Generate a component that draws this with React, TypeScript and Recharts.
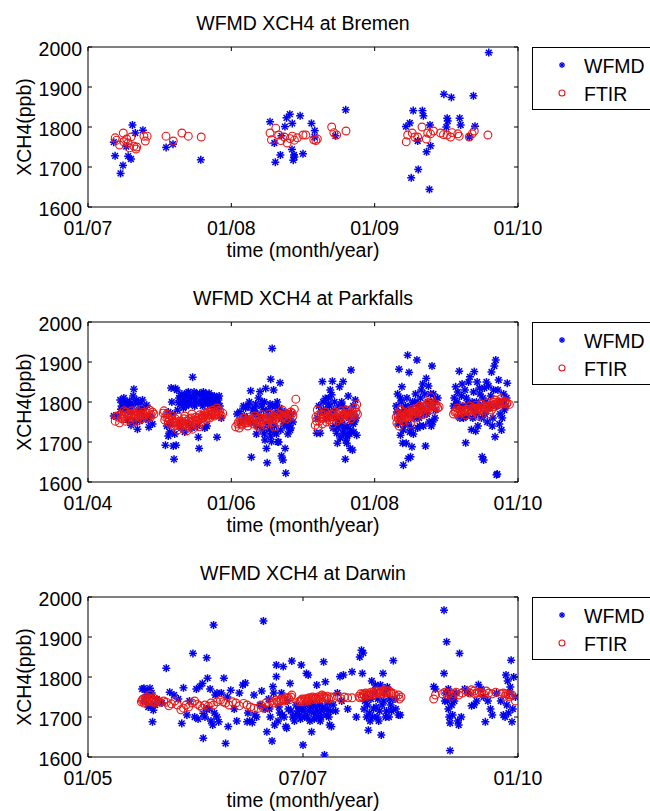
import React from 'react';
import { ScatterChart, Scatter, XAxis, YAxis, Legend } from 'recharts';

const FONT = '"Liberation Sans", Arial, Helvetica, sans-serif';
const FS = 19.5;
const BLUE = '#0000ee';
const RED = '#e81818';

type Pt = [number, number];

const yTicks = [1600, 1700, 1800, 1900, 2000];
const yDomain = [1600, 2000];

const titles = ['WFMD XCH4 at Bremen', 'WFMD XCH4 at Parkfalls', 'WFMD XCH4 at Darwin'];
const seriesNames = ['WFMD', 'FTIR'];
const xAxisLabel = 'time (month/year)';
const yAxisLabel = 'XCH4(ppb)';

const bremenTicks = [2007, 2008, 2009, 2010];
const bremenTickLabels = ['01/07', '01/08', '01/09', '01/10'];
const parkfallsTicks = [2004, 2006, 2008, 2010];
const parkfallsTickLabels = ['01/04', '01/06', '01/08', '01/10'];
const darwinTicks = [2005, 2007.5, 2010];
const darwinTickLabels = ['01/05', '07/07', '01/10'];

const bremenWfmd: Pt[] = [
  [2007.189, 1728], [2007.244, 1704], [2007.227, 1684], [2007.31, 1805], [2007.383, 1792],
  [2007.267, 1751], [2007.28, 1727], [2007.3, 1720], [2007.18, 1762], [2007.33, 1785],
  [2007.545, 1749], [2007.593, 1757], [2007.787, 1718],
  [2008.27, 1813], [2008.307, 1712], [2008.342, 1730], [2008.374, 1801], [2008.385, 1823],
  [2008.408, 1832], [2008.425, 1809], [2008.423, 1744], [2008.432, 1717], [2008.437, 1730],
  [2008.44, 1725], [2008.48, 1828], [2008.5, 1733], [2008.559, 1809], [2008.582, 1791],
  [2008.58, 1775], [2008.3, 1760], [2008.35, 1778], [2008.726, 1778], [2008.798, 1843],
  [2009.218, 1801], [2009.245, 1810], [2009.269, 1841], [2009.255, 1673], [2009.304, 1694],
  [2009.333, 1841], [2009.34, 1828], [2009.362, 1738], [2009.39, 1753], [2009.382, 1644],
  [2009.386, 1805], [2009.3, 1765], [2009.483, 1882], [2009.535, 1874], [2009.506, 1822],
  [2009.51, 1815], [2009.5, 1800], [2009.593, 1822], [2009.6, 1805], [2009.689, 1878],
  [2009.7, 1802], [2009.796, 1986], [2009.66, 1775],
];

const bremenFtir: Pt[] = [
  [2007.19, 1773], [2007.2, 1767], [2007.246, 1785], [2007.22, 1755], [2007.27, 1770],
  [2007.28, 1760], [2007.3, 1775], [2007.32, 1752], [2007.335, 1745], [2007.34, 1750],
  [2007.39, 1777], [2007.4, 1765], [2007.413, 1777], [2007.29, 1748], [2007.25, 1763],
  [2007.544, 1777], [2007.595, 1765], [2007.655, 1785], [2007.7, 1777], [2007.79, 1775],
  [2008.27, 1785], [2008.28, 1768], [2008.31, 1797], [2008.33, 1780], [2008.345, 1766],
  [2008.37, 1775], [2008.39, 1760], [2008.41, 1771], [2008.425, 1777], [2008.44, 1767],
  [2008.46, 1773], [2008.5, 1780], [2008.52, 1780], [2008.575, 1768], [2008.59, 1766],
  [2008.6, 1770], [2008.7, 1800], [2008.715, 1786], [2008.735, 1780], [2008.8, 1790],
  [2009.22, 1763], [2009.23, 1780], [2009.262, 1785], [2009.28, 1775], [2009.3, 1775],
  [2009.33, 1800], [2009.36, 1770], [2009.37, 1785], [2009.39, 1783], [2009.41, 1790],
  [2009.46, 1785], [2009.48, 1781], [2009.505, 1780], [2009.53, 1775], [2009.54, 1786],
  [2009.58, 1783], [2009.59, 1777], [2009.66, 1775], [2009.68, 1783], [2009.695, 1790],
  [2009.79, 1780],
];

const parkfallsWfmd: Pt[] = [
  [2004.36, 1765], [2004.42, 1766], [2004.45, 1805], [2004.47, 1790], [2004.49, 1798], [2004.51, 1780],
  [2004.53, 1800], [2004.55, 1785], [2004.57, 1795], [2004.6, 1775], [2004.62, 1790], [2004.64, 1832],
  [2004.66, 1800], [2004.68, 1805], [2004.69, 1732], [2004.71, 1780], [2004.73, 1795], [2004.75, 1770],
  [2004.78, 1785], [2004.8, 1760], [2004.82, 1792], [2004.84, 1755], [2004.85, 1737], [2004.87, 1765],
  [2004.9, 1745], [2004.55, 1755], [2004.65, 1750],
  [2004.46, 1782], [2004.5, 1810], [2004.58, 1802], [2004.63, 1815], [2004.7, 1798], [2004.76, 1805],
  [2004.6, 1742], [2004.72, 1752],
  [2005.08, 1692], [2005.1, 1740], [2005.12, 1775], [2005.14, 1725], [2005.16, 1835], [2005.17, 1800],
  [2005.19, 1690], [2005.2, 1657], [2005.21, 1720], [2005.22, 1834], [2005.23, 1692], [2005.24, 1830],
  [2005.25, 1780], [2005.27, 1810], [2005.28, 1745], [2005.3, 1795], [2005.31, 1820], [2005.33, 1785],
  [2005.34, 1805], [2005.36, 1815], [2005.37, 1790], [2005.39, 1800], [2005.4, 1825], [2005.42, 1808],
  [2005.44, 1795], [2005.46, 1862], [2005.47, 1812], [2005.49, 1790], [2005.5, 1805], [2005.52, 1820],
  [2005.53, 1740], [2005.54, 1712], [2005.55, 1684], [2005.57, 1800], [2005.58, 1815], [2005.6, 1790],
  [2005.62, 1808], [2005.63, 1735], [2005.65, 1820], [2005.67, 1795], [2005.68, 1805], [2005.7, 1812],
  [2005.72, 1790], [2005.74, 1800], [2005.76, 1815], [2005.78, 1795], [2005.8, 1712], [2005.82, 1805],
  [2005.84, 1790], [2005.86, 1760], [2005.35, 1725], [2005.45, 1735], [2005.15, 1745],
  [2005.18, 1770], [2005.26, 1798], [2005.29, 1815], [2005.32, 1800], [2005.38, 1822], [2005.41, 1795],
  [2005.43, 1815], [2005.48, 1825], [2005.51, 1798], [2005.56, 1822], [2005.59, 1800], [2005.61, 1825],
  [2005.64, 1798], [2005.66, 1812], [2005.69, 1822], [2005.71, 1800], [2005.73, 1815], [2005.75, 1790],
  [2005.77, 1808], [2005.79, 1785], [2005.81, 1795], [2005.83, 1815], [2005.3, 1735], [2005.4, 1745],
  [2005.66, 1740], [2005.12, 1715],
  [2006.08, 1770], [2006.12, 1776], [2006.14, 1751], [2006.17, 1790], [2006.2, 1785], [2006.22, 1760],
  [2006.25, 1800], [2006.27, 1828], [2006.28, 1662], [2006.3, 1780], [2006.32, 1770], [2006.34, 1795],
  [2006.36, 1740], [2006.38, 1810], [2006.4, 1826], [2006.42, 1790], [2006.44, 1730], [2006.46, 1800],
  [2006.47, 1705], [2006.48, 1834], [2006.49, 1684], [2006.5, 1648], [2006.52, 1780], [2006.54, 1795],
  [2006.55, 1857], [2006.56, 1701], [2006.57, 1934], [2006.58, 1760], [2006.59, 1830], [2006.6, 1740],
  [2006.62, 1790], [2006.63, 1720], [2006.65, 1775], [2006.66, 1700], [2006.68, 1848], [2006.69, 1730],
  [2006.7, 1665], [2006.72, 1655], [2006.73, 1745], [2006.75, 1684], [2006.76, 1622], [2006.78, 1760],
  [2006.8, 1740], [2006.82, 1730], [2006.84, 1770], [2006.86, 1750], [2006.5, 1745], [2006.35, 1720],
  [2006.6, 1725],
  [2006.18, 1765], [2006.24, 1790], [2006.29, 1750], [2006.33, 1785], [2006.37, 1770], [2006.41, 1760],
  [2006.43, 1800], [2006.45, 1780], [2006.51, 1765], [2006.53, 1730], [2006.57, 1790], [2006.61, 1770],
  [2006.64, 1800], [2006.67, 1785], [2006.7, 1760], [2006.74, 1775], [2006.77, 1740], [2006.79, 1720],
  [2006.81, 1755], [2006.83, 1735], [2006.46, 1720], [2006.55, 1715], [2006.65, 1700],
  [2007.19, 1722], [2007.2, 1760], [2007.22, 1790], [2007.24, 1722], [2007.26, 1775], [2007.27, 1851],
  [2007.29, 1780], [2007.31, 1809], [2007.33, 1760], [2007.35, 1795], [2007.37, 1790], [2007.38, 1830],
  [2007.4, 1818], [2007.41, 1852], [2007.43, 1780], [2007.45, 1740], [2007.47, 1722], [2007.48, 1697],
  [2007.5, 1790], [2007.51, 1838], [2007.52, 1710], [2007.54, 1800], [2007.56, 1851], [2007.57, 1730],
  [2007.59, 1657], [2007.6, 1705], [2007.61, 1697], [2007.62, 1740], [2007.63, 1815], [2007.65, 1720],
  [2007.66, 1684], [2007.67, 1880], [2007.69, 1680], [2007.7, 1745], [2007.72, 1750], [2007.73, 1805],
  [2007.75, 1717], [2007.5, 1750], [2007.42, 1735], [2007.55, 1745],
  [2007.28, 1800], [2007.32, 1780], [2007.36, 1810], [2007.39, 1770], [2007.44, 1800], [2007.46, 1760],
  [2007.49, 1735], [2007.53, 1760], [2007.55, 1790], [2007.58, 1740], [2007.6, 1780], [2007.64, 1760],
  [2007.66, 1730], [2007.68, 1770], [2007.7, 1790], [2007.71, 1725], [2007.74, 1760], [2007.62, 1715],
  [2007.56, 1720],
  [2008.3, 1790], [2008.32, 1820], [2008.34, 1882], [2008.35, 1760], [2008.36, 1717], [2008.37, 1800],
  [2008.38, 1838], [2008.39, 1697], [2008.4, 1642], [2008.41, 1780], [2008.42, 1745], [2008.44, 1697],
  [2008.46, 1917], [2008.47, 1659], [2008.48, 1874], [2008.49, 1725], [2008.5, 1663], [2008.52, 1688],
  [2008.53, 1800], [2008.55, 1760], [2008.57, 1820], [2008.59, 1905], [2008.61, 1790], [2008.63, 1740],
  [2008.65, 1830], [2008.67, 1845], [2008.69, 1770], [2008.71, 1690], [2008.72, 1859], [2008.74, 1800],
  [2008.76, 1750], [2008.78, 1820], [2008.8, 1890], [2008.81, 1750], [2008.83, 1800], [2008.85, 1780],
  [2008.88, 1810], [2008.6, 1735], [2008.45, 1810],
  [2008.31, 1775], [2008.33, 1745], [2008.36, 1810], [2008.38, 1770], [2008.4, 1730], [2008.43, 1790],
  [2008.44, 1770], [2008.47, 1745], [2008.5, 1790], [2008.51, 1735], [2008.54, 1720], [2008.56, 1800],
  [2008.58, 1770], [2008.6, 1795], [2008.62, 1760], [2008.64, 1810], [2008.66, 1780], [2008.68, 1740],
  [2008.7, 1820], [2008.73, 1770], [2008.75, 1840], [2008.77, 1790], [2008.79, 1740], [2008.82, 1820],
  [2008.84, 1760],
  [2009.1, 1790], [2009.13, 1838], [2009.15, 1800], [2009.18, 1877], [2009.2, 1785], [2009.22, 1845],
  [2009.24, 1760], [2009.27, 1698], [2009.28, 1810], [2009.3, 1795], [2009.33, 1863], [2009.35, 1731],
  [2009.36, 1800], [2009.39, 1876], [2009.4, 1780], [2009.41, 1727], [2009.43, 1850], [2009.45, 1790],
  [2009.47, 1820], [2009.49, 1760], [2009.5, 1663], [2009.52, 1655], [2009.53, 1835], [2009.55, 1800],
  [2009.57, 1750], [2009.59, 1840], [2009.61, 1790], [2009.63, 1875], [2009.65, 1760], [2009.67, 1890],
  [2009.68, 1713], [2009.69, 1905], [2009.7, 1618], [2009.71, 1620], [2009.72, 1830], [2009.74, 1745],
  [2009.76, 1800], [2009.78, 1760], [2009.8, 1820], [2009.83, 1790], [2009.85, 1847], [2009.42, 1770],
  [2009.11, 1810], [2009.14, 1795], [2009.16, 1825], [2009.19, 1760], [2009.21, 1815], [2009.23, 1790],
  [2009.26, 1830], [2009.29, 1765], [2009.31, 1850], [2009.34, 1785], [2009.37, 1760], [2009.38, 1825],
  [2009.42, 1800], [2009.44, 1740], [2009.46, 1835], [2009.48, 1790], [2009.51, 1810], [2009.54, 1770],
  [2009.56, 1850], [2009.58, 1790], [2009.62, 1815], [2009.64, 1740], [2009.66, 1830], [2009.7, 1790],
  [2009.73, 1855], [2009.75, 1770], [2009.77, 1730], [2009.79, 1800], [2009.81, 1780], [2009.84, 1810],
];

const parkfallsFtir: Pt[] = [
  [2004.38, 1752], [2004.42, 1762], [2004.44, 1748], [2004.46, 1770], [2004.48, 1758], [2004.5, 1765],
  [2004.52, 1752], [2004.53, 1775], [2004.55, 1762], [2004.57, 1770], [2004.58, 1755], [2004.6, 1768],
  [2004.61, 1778], [2004.63, 1760], [2004.64, 1772], [2004.66, 1765], [2004.68, 1752], [2004.69, 1776],
  [2004.71, 1762], [2004.73, 1770], [2004.75, 1758], [2004.77, 1774], [2004.79, 1765], [2004.82, 1760],
  [2004.84, 1772], [2004.86, 1780], [2004.88, 1768], [2004.9, 1775], [2004.92, 1770], [2004.5, 1778],
  [2004.62, 1750], [2004.74, 1782],
  [2004.4, 1765], [2004.47, 1760], [2004.54, 1768], [2004.59, 1762], [2004.65, 1770], [2004.7, 1765],
  [2004.76, 1768], [2004.81, 1772], [2004.87, 1762],
  [2005.05, 1772], [2005.06, 1778], [2005.08, 1762], [2005.1, 1770], [2005.12, 1750], [2005.13, 1760],
  [2005.15, 1745], [2005.17, 1765], [2005.19, 1752], [2005.2, 1740], [2005.22, 1758], [2005.24, 1748],
  [2005.26, 1762], [2005.28, 1740], [2005.3, 1752], [2005.32, 1735], [2005.34, 1758], [2005.36, 1745],
  [2005.38, 1728], [2005.4, 1752], [2005.42, 1740], [2005.44, 1760], [2005.46, 1732], [2005.48, 1748],
  [2005.5, 1762], [2005.52, 1745], [2005.54, 1755], [2005.56, 1768], [2005.58, 1750], [2005.6, 1760],
  [2005.62, 1772], [2005.64, 1756], [2005.66, 1765], [2005.68, 1775], [2005.7, 1760], [2005.72, 1770],
  [2005.74, 1780], [2005.76, 1765], [2005.78, 1775], [2005.8, 1785], [2005.82, 1768], [2005.84, 1778],
  [2005.86, 1765], [2005.88, 1772], [2005.35, 1765], [2005.45, 1770], [2005.25, 1730], [2005.55, 1738],
  [2005.07, 1755], [2005.11, 1760], [2005.14, 1755], [2005.18, 1748], [2005.21, 1750], [2005.23, 1742],
  [2005.27, 1752], [2005.29, 1745], [2005.31, 1748], [2005.33, 1742], [2005.37, 1752], [2005.39, 1740],
  [2005.41, 1758], [2005.43, 1748], [2005.47, 1755], [2005.49, 1742], [2005.51, 1752], [2005.53, 1760],
  [2005.57, 1758], [2005.59, 1765], [2005.61, 1762], [2005.63, 1768], [2005.65, 1772], [2005.67, 1760],
  [2005.69, 1768], [2005.71, 1775], [2005.73, 1768], [2005.75, 1772], [2005.77, 1770], [2005.79, 1768],
  [2005.81, 1778], [2005.83, 1772],
  [2006.06, 1738], [2006.09, 1745], [2006.11, 1735], [2006.13, 1752], [2006.15, 1742], [2006.17, 1760],
  [2006.19, 1748], [2006.21, 1755], [2006.23, 1740], [2006.25, 1762], [2006.27, 1750], [2006.29, 1758],
  [2006.31, 1745], [2006.33, 1765], [2006.35, 1752], [2006.37, 1740], [2006.39, 1760], [2006.41, 1748],
  [2006.43, 1768], [2006.45, 1755], [2006.47, 1742], [2006.49, 1762], [2006.51, 1750], [2006.53, 1770],
  [2006.55, 1758], [2006.57, 1748], [2006.59, 1765], [2006.61, 1755], [2006.63, 1772], [2006.65, 1760],
  [2006.67, 1750], [2006.69, 1768], [2006.71, 1780], [2006.73, 1762], [2006.75, 1772], [2006.77, 1758],
  [2006.8, 1768], [2006.83, 1775], [2006.86, 1765], [2006.9, 1807], [2006.88, 1782], [2006.4, 1735],
  [2006.6, 1738],
  [2006.1, 1750], [2006.14, 1745], [2006.18, 1752], [2006.22, 1748], [2006.26, 1755], [2006.3, 1752],
  [2006.34, 1758], [2006.38, 1750], [2006.42, 1756], [2006.46, 1760], [2006.5, 1756], [2006.54, 1762],
  [2006.58, 1758], [2006.62, 1762], [2006.66, 1768], [2006.7, 1760], [2006.74, 1765], [2006.78, 1770],
  [2006.82, 1762], [2006.85, 1772],
  [2007.17, 1742], [2007.18, 1762], [2007.2, 1780], [2007.21, 1735], [2007.23, 1752], [2007.25, 1770],
  [2007.27, 1745], [2007.29, 1760], [2007.31, 1775], [2007.33, 1750], [2007.35, 1765], [2007.37, 1755],
  [2007.39, 1770], [2007.41, 1745], [2007.43, 1762], [2007.45, 1775], [2007.47, 1752], [2007.49, 1768],
  [2007.51, 1758], [2007.53, 1778], [2007.55, 1762], [2007.57, 1770], [2007.59, 1755], [2007.61, 1780],
  [2007.63, 1765], [2007.65, 1772], [2007.67, 1758], [2007.69, 1776], [2007.71, 1765], [2007.73, 1785],
  [2007.75, 1794], [2007.76, 1770],
  [2007.19, 1752], [2007.22, 1768], [2007.26, 1758], [2007.3, 1768], [2007.34, 1760], [2007.38, 1762],
  [2007.42, 1768], [2007.46, 1762], [2007.5, 1772], [2007.54, 1765], [2007.58, 1768], [2007.62, 1772],
  [2007.66, 1765], [2007.7, 1770], [2007.74, 1775],
  [2008.3, 1762], [2008.31, 1748], [2008.32, 1770], [2008.34, 1740], [2008.35, 1758], [2008.37, 1768],
  [2008.39, 1752], [2008.41, 1775], [2008.43, 1760], [2008.45, 1770], [2008.47, 1755], [2008.49, 1778],
  [2008.51, 1765], [2008.53, 1782], [2008.55, 1770], [2008.57, 1760], [2008.59, 1785], [2008.61, 1772],
  [2008.63, 1790], [2008.65, 1778], [2008.67, 1768], [2008.69, 1788], [2008.71, 1775], [2008.73, 1795],
  [2008.75, 1782], [2008.77, 1800], [2008.78, 1813], [2008.8, 1790], [2008.82, 1780], [2008.85, 1795],
  [2008.88, 1785], [2008.9, 1788], [2008.36, 1780], [2008.5, 1745],
  [2008.33, 1758], [2008.36, 1765], [2008.38, 1760], [2008.42, 1765], [2008.44, 1770], [2008.46, 1765],
  [2008.48, 1770], [2008.52, 1775], [2008.54, 1772], [2008.56, 1778], [2008.58, 1775], [2008.62, 1780],
  [2008.64, 1785], [2008.66, 1780], [2008.7, 1782], [2008.72, 1788], [2008.74, 1785], [2008.76, 1790],
  [2008.79, 1792], [2008.83, 1788], [2008.86, 1790],
  [2009.1, 1770], [2009.13, 1778], [2009.15, 1785], [2009.17, 1765], [2009.19, 1780], [2009.21, 1772],
  [2009.23, 1788], [2009.25, 1775], [2009.27, 1768], [2009.29, 1782], [2009.31, 1776], [2009.33, 1790],
  [2009.35, 1770], [2009.37, 1785], [2009.39, 1778], [2009.41, 1792], [2009.43, 1775], [2009.45, 1786],
  [2009.47, 1780], [2009.49, 1795], [2009.51, 1778], [2009.53, 1788], [2009.55, 1782], [2009.57, 1798],
  [2009.59, 1785], [2009.61, 1792], [2009.63, 1780], [2009.65, 1800], [2009.67, 1788], [2009.69, 1805],
  [2009.71, 1792], [2009.73, 1800], [2009.76, 1808], [2009.79, 1795], [2009.82, 1802], [2009.85, 1798],
  [2009.88, 1794], [2009.6, 1770], [2009.45, 1765],
  [2009.12, 1775], [2009.16, 1772], [2009.2, 1778], [2009.24, 1780], [2009.28, 1778], [2009.32, 1782],
  [2009.36, 1780], [2009.4, 1785], [2009.44, 1782], [2009.48, 1786], [2009.52, 1786], [2009.56, 1790],
  [2009.6, 1788], [2009.64, 1792], [2009.68, 1795], [2009.72, 1798], [2009.75, 1795], [2009.78, 1800],
  [2009.81, 1798], [2009.84, 1795],
];

const darwinWfmd: Pt[] = [
  [2005.63, 1770], [2005.65, 1772], [2005.66, 1740], [2005.68, 1755], [2005.7, 1725], [2005.72, 1772],
  [2005.74, 1760], [2005.75, 1688], [2005.76, 1717], [2005.78, 1730], [2005.8, 1745], [2005.86, 1735],
  [2005.91, 1822], [2005.95, 1762], [2006.0, 1755], [2006.05, 1745], [2006.09, 1684], [2006.11, 1773],
  [2006.15, 1705], [2006.18, 1740], [2006.22, 1859], [2006.24, 1700], [2006.26, 1770], [2006.28, 1695],
  [2006.3, 1776], [2006.33, 1784], [2006.34, 1647], [2006.34, 1709], [2006.36, 1700], [2006.38, 1848],
  [2006.39, 1797], [2006.41, 1720], [2006.43, 1690], [2006.45, 1680], [2006.46, 1930], [2006.48, 1755],
  [2006.5, 1700], [2006.52, 1688], [2006.55, 1760], [2006.58, 1797], [2006.6, 1634], [2006.62, 1750],
  [2006.63, 1676], [2006.66, 1767], [2006.7, 1720], [2006.73, 1690], [2006.76, 1760], [2006.8, 1780],
  [2006.83, 1785], [2006.85, 1688], [2006.88, 1690], [2006.91, 1686], [2006.93, 1755], [2006.96, 1700],
  [2007.0, 1730], [2007.04, 1940], [2007.06, 1720], [2007.08, 1663], [2007.1, 1745], [2007.12, 1700],
  [2007.14, 1640], [2007.15, 1776], [2007.17, 1680], [2007.19, 1801], [2007.19, 1830], [2007.21, 1690],
  [2007.23, 1710], [2007.25, 1760], [2007.27, 1826], [2007.28, 1700], [2007.3, 1676], [2007.31, 1672],
  [2007.33, 1720], [2007.35, 1784], [2007.37, 1840], [2007.38, 1700], [2007.4, 1690], [2007.42, 1730],
  [2007.44, 1715], [2007.46, 1705], [2007.48, 1830], [2007.49, 1720], [2007.5, 1630], [2007.52, 1700],
  [2007.54, 1809], [2007.56, 1805], [2007.57, 1715], [2007.58, 1690], [2007.6, 1663], [2007.62, 1710],
  [2007.64, 1725], [2007.66, 1780], [2007.68, 1700], [2007.7, 1690], [2007.72, 1715], [2007.74, 1838],
  [2007.75, 1605], [2007.76, 1788], [2007.78, 1720], [2007.8, 1700], [2007.81, 1680], [2007.83, 1676],
  [2007.85, 1730], [2007.88, 1715], [2007.9, 1760], [2007.93, 1801], [2007.95, 1740], [2007.97, 1805],
  [2008.02, 1720], [2008.07, 1813], [2008.12, 1700], [2008.16, 1850], [2008.18, 1867], [2008.19, 1809],
  [2008.2, 1860], [2008.22, 1740], [2008.24, 1700], [2008.26, 1667], [2008.28, 1690], [2008.3, 1790],
  [2008.32, 1720], [2008.34, 1780], [2008.36, 1700], [2008.38, 1690], [2008.41, 1655], [2008.42, 1730],
  [2008.43, 1809], [2008.45, 1760], [2008.47, 1715], [2008.5, 1700], [2008.52, 1730], [2008.55, 1841],
  [2008.58, 1720], [2008.61, 1705], [2008.63, 1705],
  [2007.22, 1725], [2007.26, 1705], [2007.32, 1740], [2007.36, 1715], [2007.41, 1705], [2007.45, 1725],
  [2007.47, 1695], [2007.51, 1715], [2007.53, 1730], [2007.55, 1700], [2007.59, 1725], [2007.61, 1735],
  [2007.63, 1695], [2007.67, 1715], [2007.69, 1730], [2007.71, 1700], [2007.73, 1725], [2007.77, 1705],
  [2007.79, 1735], [2007.82, 1715], [2008.21, 1720], [2008.23, 1750], [2008.25, 1730], [2008.27, 1710],
  [2008.29, 1745], [2008.31, 1700], [2008.33, 1760], [2008.35, 1725], [2008.37, 1745], [2008.39, 1715],
  [2008.4, 1780], [2008.44, 1740], [2008.46, 1700], [2008.48, 1775], [2008.51, 1745], [2008.53, 1715],
  [2008.57, 1745], [2005.69, 1765], [2005.71, 1760], [2005.73, 1728], [2006.38, 1720], [2006.42, 1770],
  [2006.47, 1710], [2006.5, 1760], [2006.86, 1710], [2006.94, 1705], [2007.02, 1765], [2007.11, 1720],
  [2007.16, 1760],
  [2009.02, 1776], [2009.04, 1770], [2009.14, 1967], [2009.14, 1809], [2009.16, 1760], [2009.17, 1888],
  [2009.18, 1740], [2009.19, 1720], [2009.2, 1700], [2009.21, 1685], [2009.21, 1616], [2009.23, 1730],
  [2009.25, 1750], [2009.28, 1760], [2009.31, 1680], [2009.32, 1859], [2009.34, 1700], [2009.38, 1770],
  [2009.42, 1760], [2009.46, 1728], [2009.49, 1730], [2009.52, 1740], [2009.54, 1781], [2009.57, 1770],
  [2009.6, 1750], [2009.62, 1688], [2009.65, 1740], [2009.68, 1720], [2009.7, 1705], [2009.75, 1760],
  [2009.8, 1740], [2009.83, 1705], [2009.85, 1700], [2009.86, 1805], [2009.88, 1790], [2009.9, 1760],
  [2009.92, 1842], [2009.93, 1688], [2009.95, 1800], [2009.97, 1750],
  [2009.15, 1740], [2009.19, 1770], [2009.22, 1750], [2009.24, 1705], [2009.26, 1740], [2009.3, 1690],
  [2009.87, 1730], [2009.89, 1710], [2009.91, 1775], [2009.94, 1720],
];

const darwinFtir: Pt[] = [
  [2005.62, 1738], [2005.64, 1745], [2005.66, 1740], [2005.68, 1750], [2005.7, 1742], [2005.72, 1755],
  [2005.74, 1738], [2005.76, 1748], [2005.78, 1735], [2005.8, 1742], [2005.84, 1737], [2005.88, 1740],
  [2005.91, 1737], [2005.94, 1728], [2005.97, 1733], [2006.01, 1740], [2006.04, 1730], [2006.08, 1718],
  [2006.11, 1722], [2006.14, 1730], [2006.17, 1725], [2006.21, 1735], [2006.24, 1740], [2006.27, 1732],
  [2006.3, 1728], [2006.33, 1722], [2006.36, 1730], [2006.4, 1727], [2006.43, 1735], [2006.46, 1730],
  [2006.5, 1738], [2006.54, 1742], [2006.57, 1738], [2006.6, 1735], [2006.64, 1730], [2006.68, 1738],
  [2006.72, 1735], [2006.76, 1728], [2006.81, 1734], [2006.85, 1730], [2006.89, 1725], [2006.93, 1722],
  [2006.98, 1722], [2007.01, 1730], [2007.04, 1722], [2007.07, 1735], [2007.1, 1727], [2007.13, 1740],
  [2007.16, 1735], [2007.19, 1742], [2007.22, 1738], [2007.25, 1745], [2007.28, 1740], [2007.31, 1748],
  [2007.34, 1743], [2007.37, 1755], [2007.45, 1738], [2007.47, 1740], [2007.49, 1745], [2007.51, 1738],
  [2007.53, 1746], [2007.55, 1740], [2007.57, 1748], [2007.59, 1742], [2007.61, 1750], [2007.63, 1744],
  [2007.65, 1748], [2007.68, 1751], [2007.7, 1745], [2007.72, 1755], [2007.75, 1748], [2007.78, 1752],
  [2007.8, 1745], [2007.83, 1750], [2007.86, 1748], [2007.9, 1752], [2007.94, 1746], [2007.98, 1750],
  [2008.02, 1748], [2008.07, 1748], [2008.15, 1752], [2008.17, 1758], [2008.19, 1750], [2008.21, 1755],
  [2008.23, 1760], [2008.25, 1752], [2008.27, 1758], [2008.29, 1762], [2008.31, 1755], [2008.33, 1760],
  [2008.35, 1765], [2008.37, 1758], [2008.39, 1762], [2008.41, 1765], [2008.43, 1758], [2008.45, 1768],
  [2008.47, 1760], [2008.5, 1765], [2008.53, 1758], [2008.55, 1759], [2008.58, 1752], [2008.61, 1755],
  [2008.62, 1745], [2008.64, 1750],
  [2005.63, 1742], [2005.65, 1735], [2005.67, 1745], [2005.69, 1738], [2005.71, 1748], [2005.73, 1745],
  [2005.75, 1740], [2005.77, 1742], [2005.79, 1738], [2007.2, 1738], [2007.24, 1740], [2007.27, 1745],
  [2007.3, 1742], [2007.33, 1748], [2007.36, 1750], [2007.48, 1742], [2007.52, 1743], [2007.56, 1745],
  [2007.6, 1746], [2007.64, 1748], [2007.67, 1745], [2007.71, 1750], [2007.74, 1752], [2007.77, 1748],
  [2008.16, 1748], [2008.2, 1758], [2008.24, 1755], [2008.28, 1755], [2008.32, 1762], [2008.36, 1760],
  [2008.4, 1758], [2008.44, 1762], [2008.48, 1765], [2008.52, 1762],
  [2009.02, 1745], [2009.04, 1755], [2009.12, 1758], [2009.15, 1762], [2009.18, 1755], [2009.2, 1760],
  [2009.23, 1752], [2009.25, 1758], [2009.28, 1762], [2009.31, 1755], [2009.35, 1760], [2009.4, 1765],
  [2009.44, 1760], [2009.46, 1768], [2009.49, 1765], [2009.52, 1760], [2009.55, 1762], [2009.6, 1758],
  [2009.63, 1765], [2009.66, 1760], [2009.7, 1758], [2009.74, 1762], [2009.8, 1758], [2009.83, 1760],
  [2009.85, 1752], [2009.88, 1756], [2009.9, 1750], [2009.93, 1755], [2009.97, 1740],
  [2009.5, 1758], [2009.58, 1760], [2009.86, 1758], [2009.91, 1755],
];

const toRows = (pts: Pt[]) => pts.map(([x, y]) => ({ x, y }));

const Asterisk = ({ cx, cy, s = 4, sw = 1.5 }: any) => {
  if (cx == null || cy == null) return null;
  const d = s * 0.72;
  return (
    <g stroke={BLUE} strokeWidth={sw} strokeLinecap="butt">
      <line x1={cx - s} y1={cy} x2={cx + s} y2={cy} />
      <line x1={cx} y1={cy - s} x2={cx} y2={cy + s} />
      <line x1={cx - d} y1={cy - d} x2={cx + d} y2={cy + d} />
      <line x1={cx - d} y1={cy + d} x2={cx + d} y2={cy - d} />
    </g>
  );
};

const Ring = ({ cx, cy, r = 3.9 }: any) => {
  if (cx == null || cy == null) return null;
  return <circle cx={cx} cy={cy} r={r} fill="none" stroke={RED} strokeWidth={1.1} />;
};

const textStyle = { fontFamily: FONT, fontSize: FS, fill: '#000' } as const;

const BottomTick = (props: any) => {
  const { x, y, payload, ticks, labels } = props;
  const i = ticks.indexOf(payload.value);
  return (
    <g>
      <line x1={x} y1={y} x2={x} y2={y - 4} stroke="#000" strokeWidth={1} />
      <text x={x} y={y + 14} dy="0.71em" textAnchor="middle" style={textStyle}>
        {labels[i]}
      </text>
    </g>
  );
};

const TopTick = (props: any) => {
  const { x, y } = props;
  return <line x1={x} y1={y} x2={x} y2={y + 4} stroke="#000" strokeWidth={1} />;
};

const LeftTick = (props: any) => {
  const { x, y, payload } = props;
  return (
    <g>
      <line x1={x} y1={y} x2={x + 4} y2={y} stroke="#000" strokeWidth={1} />
      <text x={x - 6} y={y + 9} textAnchor="end" style={textStyle}>
        {payload.value}
      </text>
    </g>
  );
};

const RightTick = (props: any) => {
  const { x, y } = props;
  return <line x1={x} y1={y} x2={x - 4} y2={y} stroke="#000" strokeWidth={1} />;
};

const XLabelContent = (props: any) => {
  const vb = props.viewBox || { x: 88, y: 207, width: 430, height: 63 };
  return (
    <text x={vb.x + vb.width / 2} y={vb.y + 36} dy="0.71em" textAnchor="middle" style={textStyle}>
      {xAxisLabel}
    </text>
  );
};

const makeTitleContent = (title: string) => (props: any) => {
  const vb = props.viewBox || { x: 88, y: 0, width: 430, height: 47 };
  return (
    <text x={vb.x + vb.width / 2} y={vb.y + vb.height - 17} textAnchor="middle" style={textStyle}>
      {title}
    </text>
  );
};

const YLabelContent = (props: any) => {
  const vb = props.viewBox || { x: 0, y: 47, width: 88, height: 160 };
  const cx = vb.x + 24;
  const cy = vb.y + vb.height / 2;
  return (
    <text
      x={cx}
      y={cy}
      dy="0.36em"
      textAnchor="middle"
      transform={`rotate(-90 ${cx} ${cy})`}
      style={textStyle}
    >
      {yAxisLabel}
    </text>
  );
};

const LegendContent = (props: any) => {
  const payload = [...(props.payload || [])].sort(
    (a: any, b: any) => seriesNames.indexOf(a.value) - seriesNames.indexOf(b.value)
  );
  return (
    <div
      style={{
        width: 140,
        height: 63,
        boxSizing: 'border-box',
        border: '1px solid #000',
        background: '#fff',
        position: 'relative',
      }}
    >
      <svg width={140} height={63} style={{ position: 'absolute', left: -1, top: -1 }}>
        {payload.map((e: any, i: number) => {
          const cy = i === 0 ? 18 : 46;
          const isWfmd = e.value === seriesNames[0];
          return (
            <g key={i}>
              {isWfmd ? <Asterisk cx={30} cy={cy} s={3} sw={1.3} /> : <Ring cx={30} cy={cy} r={3} />}
              <text x={52} y={cy + 8} style={textStyle}>
                {e.value}
              </text>
            </g>
          );
        })}
      </svg>
    </div>
  );
};

const Panel = ({ title, wfmd, ftir, xDomain, xTicks, xLabels }: any) => (
  <ScatterChart width={650} height={270} margin={{ top: 0, right: 0, bottom: 0, left: 0 }}>
    <XAxis
      xAxisId="b"
      type="number"
      dataKey="x"
      orientation="bottom"
      domain={xDomain}
      ticks={xTicks}
      allowDataOverflow
      interval={0}
      height={63}
      tickSize={0}
      tickMargin={0}
      tickLine={false}
      axisLine={{ stroke: '#000', strokeWidth: 1 }}
      tick={<BottomTick ticks={xTicks} labels={xLabels} />}
      label={{ content: XLabelContent }}
    />
    <XAxis
      xAxisId="t"
      type="number"
      dataKey="x"
      orientation="top"
      domain={xDomain}
      ticks={xTicks}
      allowDataOverflow
      interval={0}
      height={47}
      tickSize={0}
      tickMargin={0}
      tickLine={false}
      axisLine={{ stroke: '#000', strokeWidth: 1 }}
      tick={<TopTick />}
      label={{ content: makeTitleContent(title) }}
    />
    <YAxis
      yAxisId="l"
      type="number"
      dataKey="y"
      orientation="left"
      domain={yDomain}
      ticks={yTicks}
      allowDataOverflow
      interval={0}
      width={88}
      tickSize={0}
      tickMargin={0}
      tickLine={false}
      axisLine={{ stroke: '#000', strokeWidth: 1 }}
      tick={<LeftTick />}
      label={{ content: YLabelContent }}
    />
    <YAxis
      yAxisId="r"
      type="number"
      dataKey="y"
      orientation="right"
      domain={yDomain}
      ticks={yTicks}
      allowDataOverflow
      interval={0}
      width={132}
      tickSize={0}
      tickMargin={0}
      tickLine={false}
      axisLine={{ stroke: '#000', strokeWidth: 1 }}
      tick={<RightTick />}
    />
    <Scatter
      name={seriesNames[0]}
      xAxisId="b"
      yAxisId="l"
      data={toRows(wfmd)}
      fill={BLUE}
      isAnimationActive={false}
      shape={(p: any) => <Asterisk cx={p.cx} cy={p.cy} />}
    />
    <Scatter
      name={seriesNames[1]}
      xAxisId="b"
      yAxisId="l"
      data={toRows(ftir)}
      fill={RED}
      isAnimationActive={false}
      shape={(p: any) => <Ring cx={p.cx} cy={p.cy} />}
    />
    <Legend
      layout="vertical"
      align="center"
      verticalAlign="middle"
      width={140}
      height={63}
      wrapperStyle={{ left: 532, top: 47, width: 140, height: 63 }}
      content={<LegendContent />}
    />
  </ScatterChart>
);

export default function App() {
  return (
    <div
      style={{
        position: 'absolute',
        left: 0,
        top: 0,
        width: 650,
        height: 811,
        overflow: 'hidden',
        background: '#fff',
      }}
    >
      <div style={{ position: 'absolute', left: 0, top: 0 }}>
        <Panel
          title={titles[0]}
          wfmd={bremenWfmd}
          ftir={bremenFtir}
          xDomain={[2007, 2010]}
          xTicks={bremenTicks}
          xLabels={bremenTickLabels}
        />
      </div>
      <div style={{ position: 'absolute', left: 0, top: 275 }}>
        <Panel
          title={titles[1]}
          wfmd={parkfallsWfmd}
          ftir={parkfallsFtir}
          xDomain={[2004, 2010]}
          xTicks={parkfallsTicks}
          xLabels={parkfallsTickLabels}
        />
      </div>
      <div style={{ position: 'absolute', left: 0, top: 550 }}>
        <Panel
          title={titles[2]}
          wfmd={darwinWfmd}
          ftir={darwinFtir}
          xDomain={[2005, 2010]}
          xTicks={darwinTicks}
          xLabels={darwinTickLabels}
        />
      </div>
    </div>
  );
}
